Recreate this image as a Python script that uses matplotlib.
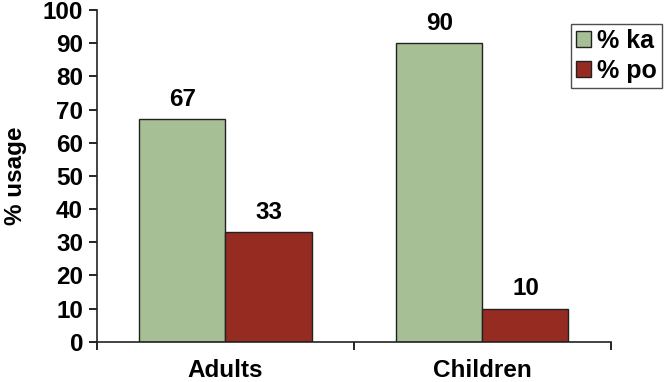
import matplotlib
matplotlib.use('Agg')
import matplotlib.pyplot as plt
import numpy as np

plt.rcParams['font.family'] = ['Liberation Sans', 'DejaVu Sans']
plt.rcParams['font.weight'] = 'bold'

groups = ['Adults', 'Children']
ka = [67, 90]
po = [33, 10]
yticks = [0, 10, 20, 30, 40, 50, 60, 70, 80, 90, 100]

fig = plt.figure(figsize=(6.64, 3.82), dpi=100)
ax = fig.add_axes([0.146, 0.105, 0.774, 0.869])

x = np.arange(len(groups))
w = 0.335
b1 = ax.bar(x - w/2, ka, w, color='#a7bf94', edgecolor='#222222', linewidth=1, label='% ka')
b2 = ax.bar(x + w/2, po, w, color='#962b21', edgecolor='#222222', linewidth=1, label='% po')

for bars, vals in ((b1, ka), (b2, po)):
    for r, v in zip(bars, vals):
        ax.annotate(str(v), (r.get_x() + r.get_width()/2, v), xytext=(0, 6),
                    textcoords='offset points', ha='center', va='bottom',
                    fontsize=17.5, fontweight='bold')

ax.set_xlim(-0.5, 1.5)
ax.set_ylim(0, 100)
ax.set_yticks(yticks)
ax.set_xticks([-0.5, 0.5, 1.5])
ax.set_xticklabels([])
ax.set_xticks(x, minor=True)
ax.set_xticklabels(groups, minor=True)
ax.tick_params(axis='x', which='minor', length=0, pad=12, labelsize=17.5)
ax.tick_params(axis='x', which='major', direction='out', length=6, width=1.2)
ax.tick_params(axis='y', direction='out', length=6, width=1.2, labelsize=17.5, pad=4)
ax.spines['top'].set_visible(False)
ax.spines['right'].set_visible(False)
for s in ('left', 'bottom'):
    ax.spines[s].set_linewidth(1.2)
    ax.spines[s].set_color('#222222')
ax.set_ylabel('% usage', fontsize=17.5, fontweight='bold', labelpad=11)

leg = ax.legend(loc='upper right', bbox_to_anchor=(1.1, 0.958), fontsize=18,
                frameon=True, fancybox=False, edgecolor='#222222',
                handlelength=0.6, handleheight=0.6, handletextpad=0.25,
                borderpad=0.2, labelspacing=0.25, borderaxespad=0)
leg.get_frame().set_linewidth(1)

fig.savefig('out.png', dpi=100)
